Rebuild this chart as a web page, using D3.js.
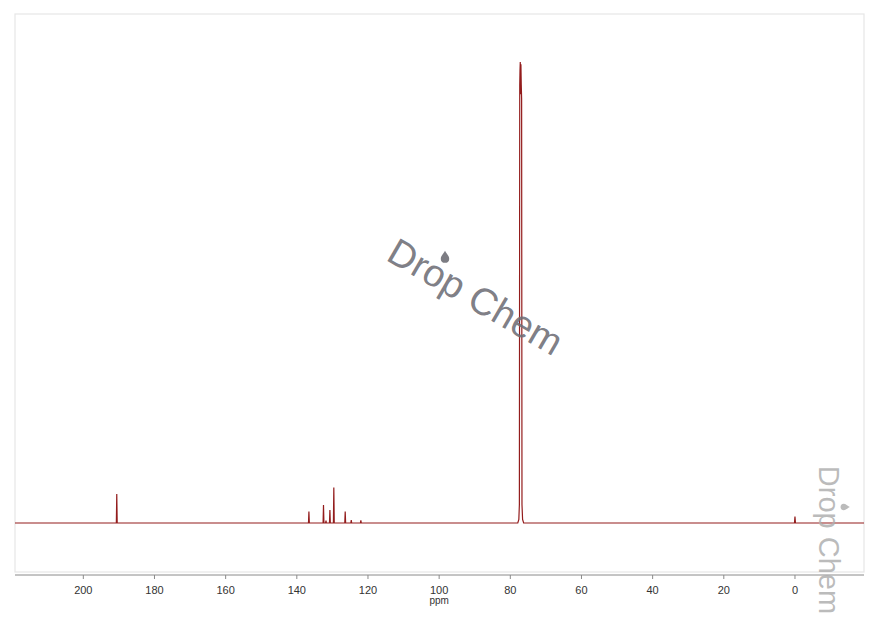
<!DOCTYPE html>
<html>
<head>
<meta charset="utf-8">
<script src="https://cdn.jsdelivr.net/npm/d3@7"></script>
<style>
  body { margin: 0; background: #fff; }
  svg { display: block; }
</style>
</head>
<body>
<script>
// peak list (ppm, relative intensity, half width in ppm)
const peakPpm = [190.6, 136.6, 132.5, 131.8, 130.7, 129.6, 126.4, 124.7, 122.0, 0.0];
const peakInt = [6.3, 2.5, 3.9, 0.5, 2.8, 7.7, 2.5, 0.65, 0.6, 1.4];
const peakHalfWidth = [0.12, 0.12, 0.12, 0.12, 0.12, 0.12, 0.12, 0.12, 0.12, 0.14];

// solvent triplet (CDCl3), traced point by point
const solventPts = [
  [77.9, 0], [77.6, 0.8], [77.45, 4], [77.35, 95], [77.28, 98], [77.2, 100],
  [77.12, 93], [77.02, 99.5], [76.92, 95], [76.82, 92], [76.72, 4], [76.55, 0.8], [76.25, 0]
];

const tickValues = [200, 180, 160, 140, 120, 100, 80, 60, 40, 20, 0];

const width = 880, height = 621;
const frame = {left: 15, top: 14, right: 864, bottom: 572};

const x = d3.scaleLinear().domain([219.2, -19.4]).range([frame.left, frame.right]);
const y = d3.scaleLinear().domain([0, 100]).range([523, 62]);

const svg = d3.select("body").append("svg")
  .attr("width", width)
  .attr("height", height);

svg.append("rect")
  .attr("x", frame.left).attr("y", frame.top)
  .attr("width", frame.right - frame.left)
  .attr("height", frame.bottom - frame.top)
  .attr("fill", "none")
  .attr("stroke", "#e6e6e6")
  .attr("stroke-width", 1.2);

// build spectrum points: baseline plus spikes from the peak list
let pts = [[x.domain()[0], 0]];
let peaks = peakPpm.map((p, i) => ({ppm: p, h: peakInt[i], w: peakHalfWidth[i]}));
peaks.push({solvent: true, ppm: 77.1});
peaks.sort((a, b) => b.ppm - a.ppm);
peaks.forEach(pk => {
  if (pk.solvent) {
    solventPts.forEach(s => pts.push(s));
  } else {
    pts.push([pk.ppm + pk.w, 0]);
    pts.push([pk.ppm, pk.h]);
    pts.push([pk.ppm - pk.w, 0]);
  }
});
pts.push([x.domain()[1], 0]);

const line = d3.line()
  .x(d => x(d[0]))
  .y(d => y(d[1]));

svg.append("path")
  .datum(pts)
  .attr("fill", "none")
  .attr("stroke", "#931c1c")
  .attr("stroke-width", 1.2)
  .attr("stroke-linejoin", "miter")
  .attr("d", line);

// x axis
const axis = svg.append("g")
  .attr("transform", "translate(0,575)");
axis.append("line")
  .attr("x1", frame.left).attr("x2", frame.right)
  .attr("stroke", "#8a8a8a").attr("stroke-width", 1);
axis.selectAll(".tick")
  .data(tickValues)
  .enter()
  .append("line")
  .attr("x1", d => x(d)).attr("x2", d => x(d))
  .attr("y1", 0).attr("y2", 4)
  .attr("stroke", "#8a8a8a");
axis.selectAll(".lbl")
  .data(tickValues)
  .enter()
  .append("text")
  .attr("x", d => x(d))
  .attr("y", 19)
  .attr("text-anchor", "middle")
  .attr("font-family", "Liberation Sans, Arial, sans-serif")
  .attr("font-size", 11)
  .attr("fill", "#333")
  .text(d => d);
axis.append("text")
  .attr("x", x(100))
  .attr("y", 29)
  .attr("text-anchor", "middle")
  .attr("font-family", "Liberation Sans, Arial, sans-serif")
  .attr("font-size", 10)
  .attr("fill", "#333")
  .text("ppm");

// watermarks
const dropPath = "M0,-6 C1.5,-3 4,-1 4,1.8 C4,4.2 2.2,5.5 0,5.5 C-2.2,5.5 -4,4.2 -4,1.8 C-4,-1 -1.5,-3 0,-6 Z";

function addMark(cx, cy, angle, size, color, dropAt) {
  let g = svg.append("g")
    .attr("transform", "translate(" + cx + "," + cy + ") rotate(" + angle + ")");
  g.append("text")
    .attr("text-anchor", "middle")
    .attr("font-family", "Liberation Sans, Arial, sans-serif")
    .attr("font-size", size)
    .attr("fill", color)
    .text("Drop Chem");
  svg.append("path")
    .attr("d", dropPath)
    .attr("transform", "translate(" + dropAt[0] + "," + dropAt[1] + ") rotate(" + (angle > 45 ? 90 : 0) + ") scale(" + size / 36 + ")")
    .attr("fill", color);
}

addMark(469, 308, 30, 38, "rgba(110,110,118,0.9)", [445, 257]);
addMark(819, 540, 90, 29, "rgba(175,175,175,0.85)", [845, 507]);
</script>
</body>
</html>
